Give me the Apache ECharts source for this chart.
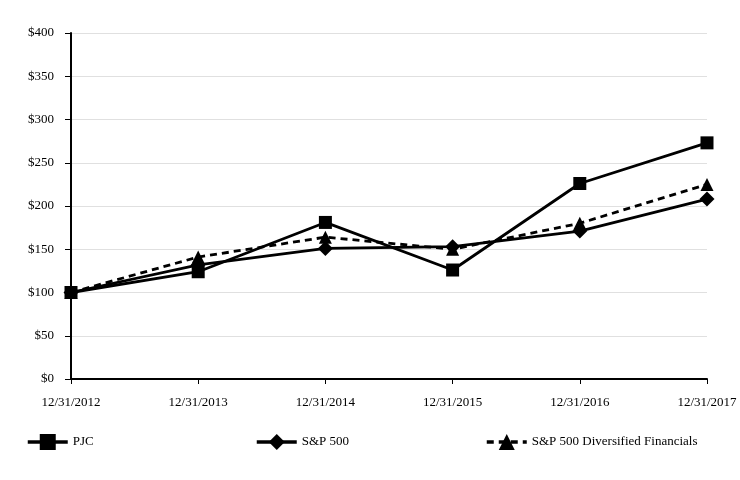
<!DOCTYPE html>
<html><head><meta charset="utf-8">
<script src="https://cdn.jsdelivr.net/npm/echarts@6/dist/echarts.min.js"></script>
<style>html,body{margin:0;padding:0;background:#fff}#c{width:740px;height:480px}</style>
</head><body><div id="c"></div>
<script>
const categories = ['12/31/2012','12/31/2013','12/31/2014','12/31/2015','12/31/2016','12/31/2017'];
const pjc = [100, 124, 181, 126, 226, 273];
const sp500 = [100, 132, 151, 153, 171, 208];
const divFin = [100, 141, 164, 150, 180, 225];
const yTicks = [0, 50, 100, 150, 200, 250, 300, 350, 400];

const font = 'Liberation Serif';
const chart = echarts.init(document.getElementById('c'));
const mk = (name, data, symbol, size, dashed) => ({
  name, type: 'line', data, symbol, symbolSize: size,
  lineStyle: {color: '#000', width: 2.8, type: dashed ? [7, 5] : 'solid'},
  itemStyle: {color: '#000'}, z: dashed ? 3 : 2
});
const legendBase = {itemWidth: 40, itemHeight: 20, itemGap: 10, padding: 0,
  lineStyle: {width: 3.5},
  textStyle: {fontFamily: font, fontSize: 13, color: '#000'}, top: 434};
chart.setOption({
  animation: false,
  textStyle: {fontFamily: font},
  grid: {left: 71, right: 33, top: 33, bottom: 101},
  legend: [
    Object.assign({data: ['PJC'], left: 26}, legendBase),
    Object.assign({data: ['S&P 500'], left: 255}, legendBase),
    Object.assign({data: ['S&P 500 Diversified Financials'], left: 485}, legendBase)
  ],
  xAxis: {
    type: 'category', data: categories, boundaryGap: false,
    axisLine: {lineStyle: {color: '#000', width: 2}},
    axisTick: {show: true, length: 5, lineStyle: {color: '#000', width: 1}},
    axisLabel: {color: '#000', fontSize: 13, fontFamily: font, margin: 17}
  },
  yAxis: {
    type: 'value', min: 0, max: 400, interval: 50,
    axisLine: {show: true, lineStyle: {color: '#000', width: 2}},
    axisTick: {show: true, length: 6, lineStyle: {color: '#000'}},
    splitLine: {lineStyle: {color: '#e0e0e0', width: 1}},
    axisLabel: {color: '#000', fontSize: 13, fontFamily: font, margin: 17,
      formatter: v => yTicks.includes(v) ? '$' + v : ''}
  },
  series: [
    mk('PJC', pjc, 'rect', 13, false),
    mk('S&P 500', sp500, 'diamond', 15, false),
    mk('S&P 500 Diversified Financials', divFin, 'triangle', 13, true)
  ]
});
</script></body></html>
